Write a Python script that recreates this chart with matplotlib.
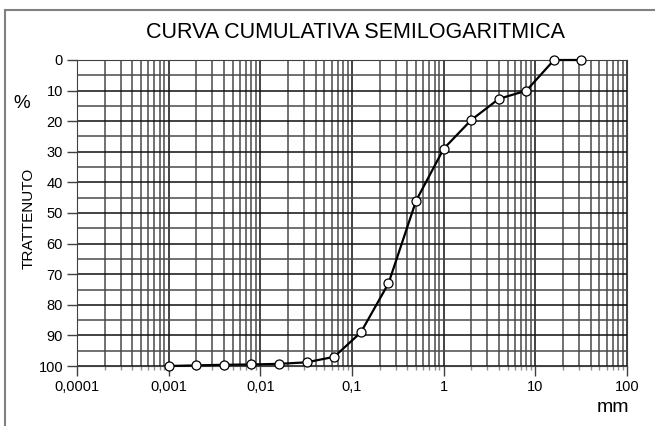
import matplotlib.pyplot as plt
import matplotlib.ticker as mticker
from matplotlib.patches import Rectangle
import numpy as np

plt.rcParams['font.family'] = ['Liberation Sans', 'DejaVu Sans']

# diametri setacci (mm) e percentuale trattenuta
diametri = [0.001, 0.002, 0.004, 0.008, 0.016, 0.032, 0.064, 0.125,
            0.25, 0.5, 1, 2, 4, 8, 16, 31.5]
trattenuto = [100, 99.8, 99.6, 99.5, 99.3, 98.8, 97, 89,
              73, 46, 29, 19.6, 12.7, 10, 0, 0]

x_ticks = [0.0001, 0.001, 0.01, 0.1, 1, 10, 100]
x_labels = ['0,0001', '0,001', '0,01', '0,1', '1', '10', '100']
y_ticks = np.arange(0, 101, 10)

fig = plt.figure(figsize=(6.55, 4.26), dpi=100)
ax = fig.add_axes([77/655, 1-366/426, 550/655, 306/426])

# cornice grigia
fig.patches.append(Rectangle((5/655, -0.1), 1.1, 1-10/426+0.1,
                             transform=fig.transFigure, fill=False,
                             edgecolor='#808080', lw=1.5))

ax.set_xscale('log')
ax.set_xlim(0.0001, 100)
ax.set_ylim(100, 0)

ax.set_xticks(x_ticks)
ax.set_xticklabels(x_labels)
ax.xaxis.set_minor_locator(mticker.LogLocator(base=10, subs=np.arange(2, 10)))
ax.xaxis.set_minor_formatter(mticker.NullFormatter())
ax.set_yticks(y_ticks)
ax.yaxis.set_minor_locator(mticker.MultipleLocator(5))

ax.grid(which='major', color='#101010', lw=1.1)
ax.grid(which='minor', color='#4a4a4a', lw=1.1)
ax.set_axisbelow(True)

ax.tick_params(which='major', direction='out', length=7, width=1, labelsize=10.5,
               color='#404040', pad=3)
ax.tick_params(which='minor', direction='out', length=3, width=1, color='#909090')
ax.tick_params(axis='y', which='minor', length=0)
for s in ax.spines.values():
    s.set_color('#404040')

ax.plot(diametri, trattenuto, color='black', lw=1.6, marker='o',
        markersize=6.5, markerfacecolor='white', markeredgecolor='black',
        markeredgewidth=0.9, clip_on=False, zorder=5)

fig.text(355/655, 1-32/426, 'CURVA CUMULATIVA SEMILOGARITMICA',
         ha='center', va='center', fontsize=15.5)
fig.text(22/655, 1-104/426, '%', ha='center', va='center', fontsize=13.5)
fig.text(29/655, 1-218/426, 'TRATTENUTO', ha='center', va='center',
         rotation=90, fontsize=11)
fig.text(613/655, 1-408/426, 'mm', ha='center', va='center', fontsize=14)

plt.savefig('out.png', dpi=100)
